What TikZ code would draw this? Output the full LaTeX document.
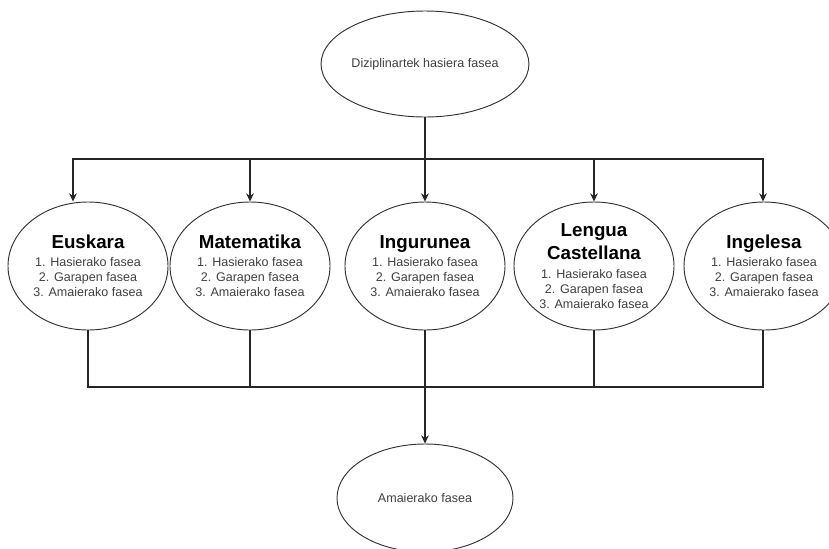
\documentclass[tikz,border=0pt]{standalone}
\usepackage{fontspec}
\setmainfont{Liberation Sans}
\usepackage{tikz}
\usetikzlibrary{shapes.geometric}
\usetikzlibrary{arrows.meta}
\tikzset{
phase/.style={ % Sets the properties for each phase ellipse
ellipse,
draw=black!80,
line width=0.8pt,
inner sep=0pt,
align=center,
text=black!75,
font=\fontsize{10.7}{12.8}\selectfont},
subject/.style={ % The five subject ellipses
phase,
minimum width=4.8cm,
minimum height=3.84cm},
link/.style={ % Sets the properties for each connector
draw=black!85,
line width=0.9pt,
>={Stealth[length=7pt,width=6.5pt]}}}
\newcommand{\subjecttitle}[1]{{\color{black}\fontsize{16}{19}\bfseries #1}}
\newcommand{\phaselines}{1. Hasierako fasea\\ 2. Garapen fasea\\ 3. Amaierako fasea}

\begin{document}
\begin{tikzpicture}[x=0.03cm, y=-0.03cm]
\path[use as bounding box, clip] (0,0) rectangle (829,548);
\fill[white] (0,0) rectangle (829,548);
\node[phase, minimum width=5.1cm, minimum height=3.18cm] (start) at (425,64) {Diziplinartek hasiera fasea};
\node[subject] (eusk) at (88,266) {\subjecttitle{Euskara}\\[3pt] \phaselines};
\node[subject] (mate) at (250,266) {\subjecttitle{Matematika}\\[3pt] \phaselines};
\node[subject] (ingu) at (425,266) {\subjecttitle{Ingurunea}\\[3pt] \phaselines};
\node[subject] (leng) at (594,266) {\subjecttitle{Lengua}\\[4pt] \subjecttitle{Castellana}\\[3pt] \phaselines};
\node[subject] (inge) at (764,266) {\subjecttitle{Ingelesa}\\[3pt] \phaselines};
\node[phase, minimum width=5.28cm, minimum height=3.24cm] (end) at (425,498) {Amaierako fasea};
\coordinate (split) at (425,159);
\coordinate (join) at (425,387);
\draw[link, ->] (start.south) -- (ingu.north);
\draw[link, ->] (split) -| ([xshift=-0.45cm]eusk.north);
\draw[link, ->] (split) -| (mate.north);
\draw[link, ->] (split) -| (leng.north);
\draw[link, ->] (split) -| ([xshift=-0.03cm]inge.north);
\draw[link] (eusk.south) |- (join);
\draw[link] (mate.south) |- (join);
\draw[link] (leng.south) |- (join);
\draw[link] ([xshift=-0.03cm]inge.south) |- (join);
\draw[link, ->] (ingu.south) -- (end.north);
\end{tikzpicture}
\end{document}
